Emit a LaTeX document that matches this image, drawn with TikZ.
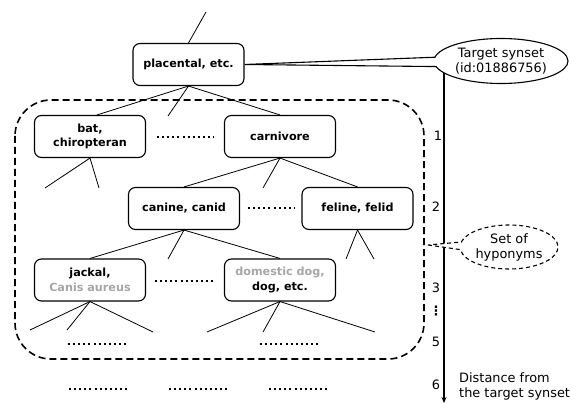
\documentclass[tikz,border=0pt]{standalone}
\usepackage{fontspec}
\setmainfont{DejaVu Sans}
\usetikzlibrary{shapes.callouts,arrows.meta}
\definecolor{lgray}{RGB}{166,166,166}
\begin{document}
\begin{tikzpicture}[x=1pt,y=-1pt,
  box/.style={draw,rounded corners=7pt,line width=1.1pt,minimum width=111pt,minimum height=42pt,inner sep=2pt,align=center,font=\bfseries\fontsize{11.2}{14.5}\selectfont},
  tree/.style={line width=0.8pt},
  dotrow/.style={line width=2pt,dash pattern=on 2pt off 3.1pt},
  lbl/.style={font=\fontsize{12.9}{15}\selectfont,inner sep=0pt},
  axisline/.style={line width=1.5pt}]
\useasboundingbox (0,0) rectangle (572,403);

% hierarchy boxes
\node[box] (pl) at (188.5,64.5) {placental, etc.};
\node[box] (bat) at (90,136.5) {bat,\\chiropteran};
\node[box] (car) at (280,136.5) {carnivore};
\node[box] (can) at (184,208.5) {canine, canid};
\node[box] (fel) at (357.5,208.5) {feline, felid};
\node[box] (jac) at (90,280) {jackal,\\\textcolor{lgray}{Canis aureus}};
\node[box] (dom) at (280,280) {\textcolor{lgray}{domestic dog,}\\dog, etc.};

% free ends of tree edges
\coordinate (t0) at (206,12);
\coordinate (p1) at (168,116);
\coordinate (b1) at (45,188);
\coordinate (b2) at (99,188);
\coordinate (c1) at (263,188);
\coordinate (k1) at (168,259);
\coordinate (f1) at (346,259);
\coordinate (f2) at (374,259);
\coordinate (j1) at (30,330);
\coordinate (j2) at (67,330);
\coordinate (j3) at (153,332);
\coordinate (d1) at (207,332);
\coordinate (d2) at (263,332);
\coordinate (d3) at (375,332);

\draw[tree] (pl.north) -- (t0);
\draw[tree] (pl.south) -- ([xshift=7pt]bat.north);
\draw[tree] (pl.south) -- (p1);
\draw[tree] (pl.south) -- (car.north);
\draw[tree] (bat.south) -- (b1);
\draw[tree] (bat.south) -- (b2);
\draw[tree] (car.south) -- (can.north);
\draw[tree] (car.south) -- (c1);
\draw[tree] (car.south) -- (fel.north);
\draw[tree] (can.south) -- (jac.north);
\draw[tree] (can.south) -- (k1);
\draw[tree] (can.south) -- (dom.north);
\draw[tree] (fel.south) -- (f1);
\draw[tree] (fel.south) -- (f2);
\draw[tree] (jac.south) -- (j1);
\draw[tree] (jac.south) -- (j2);
\draw[tree] (jac.south) -- (j3);
\draw[tree] (dom.south) -- (d1);
\draw[tree] (dom.south) -- (d2);
\draw[tree] (dom.south) -- (d3);

% rows of dots
\draw[dotrow] (157,137.5) -- (214,137.5);
\draw[dotrow] (248,208.5) -- (295,208.5);
\draw[dotrow] (155,280.5) -- (214,280.5);
\draw[dotrow] (68,343.5) -- (128,343.5);
\draw[dotrow] (260,343.5) -- (318,343.5);
\draw[dotrow] (69,388.5) -- (129,388.5);
\draw[dotrow] (169,388.5) -- (229,388.5);
\draw[dotrow] (269,388.5) -- (329,388.5);

% dashed set of hyponyms region
\draw[line width=1.6pt,dash pattern=on 7pt off 4pt,rounded corners=36pt] (15,100) rectangle (424,359);

% distance axis
\coordinate (ax1) at (444,70);
\coordinate (ax2) at (444,403);
\draw[axisline,-{Stealth[length=6pt,width=5pt]}] (ax1) -- (ax2);
\node[lbl] (n1) at (438,136) {1};
\node[lbl] (n2) at (436,207) {2};
\node[lbl] (n3) at (436,288) {3};
\node[lbl,font=\bfseries\fontsize{12.9}{15}\selectfont] (nv) at (436,311) {⋮};
\node[lbl] (n5) at (436,342) {5};
\node[lbl] (n6) at (436,385) {6};
\node[lbl,anchor=west,align=left] (dist) at (459,386) {Distance from\\the target synset};

% callouts
\node[ellipse callout,draw,fill=white,line width=1.1pt,minimum width=134pt,minimum height=45pt,inner sep=0pt,
  callout absolute pointer={(pl.east)},callout pointer arc=24,lbl,align=center] (ts) at (501,61) {Target synset\\(id:01886756)};
\coordinate (hp) at (428,245);
\node[ellipse callout,draw,fill=white,line width=1.1pt,dash pattern=on 4pt off 3pt,minimum width=98pt,minimum height=44pt,inner sep=0pt,
  callout absolute pointer={(hp)},callout pointer arc=20,lbl,align=center] (hy) at (509,247) {Set of\\hyponyms};
\end{tikzpicture}
\end{document}
